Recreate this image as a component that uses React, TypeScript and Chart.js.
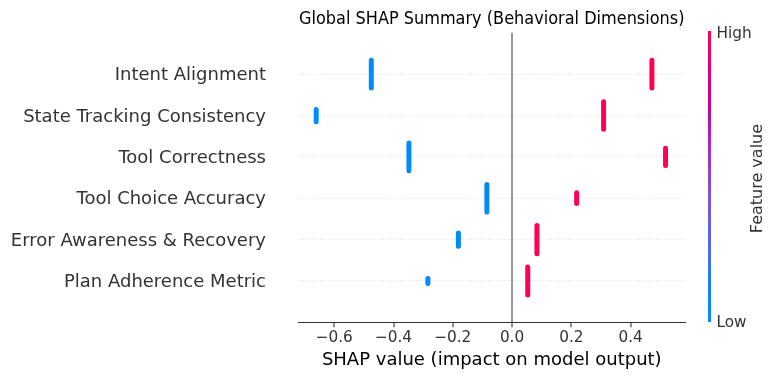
import React, { useEffect, useRef } from 'react';
import { Chart, registerables } from 'chart.js';

Chart.register(...registerables);

// ---- data ----
const features = [
  'Intent Alignment',
  'State Tracking Consistency',
  'Tool Correctness',
  'Tool Choice Accuracy',
  'Error Awareness & Recovery',
  'Plan Adherence Metric',
];
// SHAP value for low feature values (blue) and high feature values (red)
const lowValues = [-0.475, -0.661, -0.348, -0.085, -0.181, -0.284];
const highValues = [0.472, 0.309, 0.518, 0.218, 0.084, 0.053];
// vertical spread of each cluster (in row units, half height)
const lowSpread = [0.335, 0.148, 0.333, 0.333, 0.16, 0.06];
const highSpread = [0.335, 0.333, 0.21, 0.13, 0.34, 0.34];
const xTicks = [-0.6, -0.4, -0.2, 0, 0.2, 0.4];
const colorbarLabels = ['Low', 'High'];

const BLUE = '#008bfb';
const RED = '#ff0052';
const FONT = '"DejaVu Sans", sans-serif';

const noPad = (s: any) => {
  s.paddingTop = 0;
  s.paddingBottom = 0;
  s.paddingLeft = 0;
  s.paddingRight = 0;
};

export default function App() {
  const ref = useRef<HTMLCanvasElement>(null);

  useEffect(() => {
    const canvas = ref.current!;
    const ctx = canvas.getContext('2d')!;
    Chart.defaults.font.family = FONT;

    const grad = ctx.createLinearGradient(0, 322.3, 0, 32.8);
    grad.addColorStop(0, '#008bfb');
    grad.addColorStop(0.1, '#0a86f9');
    grad.addColorStop(0.25, '#4f6ae8');
    grad.addColorStop(0.4, '#7a55e0');
    grad.addColorStop(0.55, '#9c38cc');
    grad.addColorStop(0.65, '#b31cb8');
    grad.addColorStop(0.75, '#c800a0');
    grad.addColorStop(0.9, '#e50078');
    grad.addColorStop(1, '#ff0052');

    const datasets: any[] = [];
    features.forEach((f, i) => {
      datasets.push({
        label: f + ' (low)',
        data: [
          { x: lowValues[i], y: i - lowSpread[i] },
          { x: lowValues[i], y: i + lowSpread[i] },
        ],
        showLine: true,
        borderColor: BLUE,
        backgroundColor: BLUE,
        borderWidth: 5,
        borderCapStyle: 'round',
        pointRadius: 0,
        pointHoverRadius: 0,
      });
      datasets.push({
        label: f + ' (high)',
        data: [
          { x: highValues[i], y: i - highSpread[i] },
          { x: highValues[i], y: i + highSpread[i] },
        ],
        showLine: true,
        borderColor: RED,
        backgroundColor: RED,
        borderWidth: 5,
        borderCapStyle: 'round',
        pointRadius: 0,
        pointHoverRadius: 0,
      });
    });

    const featureValuePlugin = {
      id: 'featureValueLabel',
      afterDraw(chart: any) {
        const cb = chart.scales.cb;
        const c = chart.ctx;
        c.save();
        c.translate(cb.left + 48.5, (cb.top + cb.bottom) / 2 + 1);
        c.rotate(-Math.PI / 2);
        c.font = '16px ' + FONT;
        c.fillStyle = '#333333';
        c.textAlign = 'center';
        c.textBaseline = 'middle';
        c.fillText('Feature value', 0, 0);
        c.restore();
      },
    };

    const chart = new Chart(canvas, {
      type: 'scatter',
      data: { datasets },
      plugins: [featureValuePlugin],
      options: {
        animation: false,
        responsive: true,
        maintainAspectRatio: false,
        layout: { padding: 0 },
        plugins: {
          legend: { display: false },
          tooltip: { enabled: false },
          title: {
            display: true,
            text: 'Global SHAP Summary (Behavioral Dimensions)',
            color: '#000000',
            fullSize: false,
            font: { size: 17, weight: 'normal', family: FONT },
            padding: { top: 9, bottom: 3.4 },
          },
        },
        scales: {
          x: {
            type: 'linear',
            position: 'bottom',
            min: -0.719,
            max: 0.582,
            afterBuildTicks: (s: any) => {
              s.ticks = xTicks.map((v) => ({ value: v }));
            },
            afterFit: (s: any) => {
              s.height = 57.7;
              noPad(s);
            },
            ticks: {
              color: '#333333',
              font: { size: 15.3, family: FONT },
              padding: 2,
              callback: (v: any) =>
                (Number(v) < 0 ? '\u2212' : '') + Math.abs(Number(v)).toFixed(1),
            },
            grid: {
              color: (c: any) =>
                c.tick && Math.abs(c.tick.value) < 1e-9 ? '#999999' : 'rgba(0,0,0,0)',
              lineWidth: 2,
              drawTicks: true,
              tickLength: 5,
              tickColor: '#333333',
              tickWidth: 1.1,
            },
            border: { display: true, color: '#333333', width: 1.1 },
            title: {
              display: true,
              text: 'SHAP value (impact on model output)',
              color: '#000000',
              font: { size: 18, family: FONT },
              padding: { top: 0, bottom: 9.2 },
            },
          },
          y: {
            type: 'linear',
            position: 'left',
            min: -1,
            max: 6,
            reverse: true,
            afterBuildTicks: (s: any) => {
              s.ticks = features.map((_, i) => ({ value: i }));
            },
            afterFit: (s: any) => {
              s.width = 299;
              noPad(s);
            },
            ticks: {
              color: '#333333',
              font: { size: 18, family: FONT },
              padding: 33,
              labelOffset: 1.5,
              callback: (v: any) => features[Number(v)] ?? '',
            },
            grid: {
              color: '#cccccc',
              lineWidth: 0.8,
              drawTicks: false,
            },
            border: { display: false, dash: [1, 3.2] },
          },
          gap: {
            type: 'linear',
            position: 'right',
            weight: 0,
            display: true,
            min: 0,
            max: 1,
            afterFit: (s: any) => {
              s.width = 25;
              noPad(s);
            },
            ticks: { display: false },
            grid: { display: false, drawTicks: false },
            border: { display: false },
          },
          cb: {
            type: 'linear',
            position: 'right',
            weight: 1,
            min: 0,
            max: 1,
            afterBuildTicks: (s: any) => {
              s.ticks = [{ value: 0 }, { value: 1 }];
            },
            afterFit: (s: any) => {
              s.width = 69.5;
              noPad(s);
            },
            ticks: {
              color: '#333333',
              font: { size: 15.3, family: FONT },
              padding: 7,
              labelOffset: 1,
              callback: (v: any) => colorbarLabels[Number(v)] ?? '',
            },
            grid: { display: false, drawTicks: false, lineWidth: 0 },
            border: { display: true, width: 3, color: grad as any },
          },
        },
      } as any,
    });

    return () => chart.destroy();
  }, []);

  return (
    <div style={{ position: 'fixed', left: 0, top: 0, width: 779, height: 380 }}>
      <canvas ref={ref} />
    </div>
  );
}
